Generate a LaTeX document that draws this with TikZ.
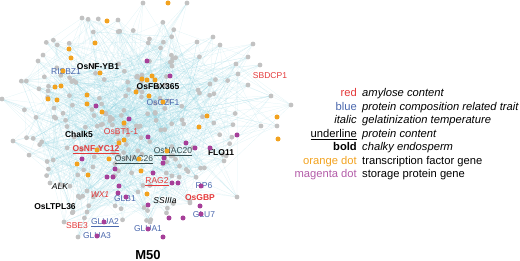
\documentclass[tikz,border=0pt]{standalone}
\usepackage{fontspec}
\setmainfont{Liberation Sans}
\usepackage{xcolor}
\usepackage{tikz}
\usetikzlibrary{positioning}
\definecolor{netcyan}{HTML}{86CEDC}
\definecolor{dotgray}{HTML}{C2C2C2}
\definecolor{tforange}{HTML}{F2A21F}
\definecolor{spmagenta}{HTML}{A63F99}
\definecolor{labred}{HTML}{E3393A}
\definecolor{labblue}{HTML}{4A67AD}
\definecolor{nacgray}{HTML}{34494B}

\begin{document}
\begin{tikzpicture}[
    x=1pt, y=-1pt,
    netlink/.style={draw=netcyan, line width=0.25pt, opacity=0.26},
    graydot/.style={fill=dotgray},
    tfdot/.style={fill=tforange},
    spdot/.style={fill=spmagenta},
    gene/.style={font=\fontsize{8.5}{10}\selectfont, inner sep=0pt},
    key/.style={font=\fontsize{11.2}{13}\selectfont, inner sep=0pt, anchor=base east},
    meaning/.style={font=\fontsize{11.2}{13}\selectfont\itshape, inner sep=0pt, anchor=base west}
]
    \useasboundingbox (0,0) rectangle (520,261);

    % Network points
    \pgfmathsetseed{50}
    \foreach \i in {1,...,200} {
        \pgfmathsetmacro\ang{360*rnd}
        \pgfmathsetmacro\rad{rnd^0.6}
        \coordinate (g\i) at ({122+114*\rad*cos(\ang)},{118+106*\rad*sin(\ang)});
    }
    \foreach \x/\y [count=\i from 201] in {143/3,187/3,82/18,118/20,2/99,13/141,
        260/65,271/96,291/105,277/126,261/126,253/44,248/57,236/64,
        238/74,248/85,213/37,220/45,197/42,50/183,64/222,78/237,
        87/212,73/212,237/197,150/222}
        \coordinate (g\i) at (\x,\y);

    % Links
    \foreach \i in {1,...,226} {
        \foreach \k in {1,...,4} {
            \pgfmathtruncatemacro\j{1+225*rnd}
            \draw[netlink] (g\i) -- (g\j);
        }
    }

    % Gray dots
    \foreach \i in {1,...,226}
        \fill[graydot] (g\i) circle (2.4);

    % Gene labels
    \node[gene, text=labblue] (risbz1) at (66,72) {RISBZ1};
    \node[gene, font=\fontsize{8.5}{10}\selectfont\bfseries] (nfyb1) at (98,67) {OsNF-YB1};
    \node[gene, font=\fontsize{8.5}{10}\selectfont\bfseries] (fbx365) at (158,87) {OsFBX365};
    \node[gene, text=labblue] (gzf1) at (163,103) {OsGZF1};
    \node[gene, text=labred] (sbdcp1) at (270,76) {SBDCP1};
    \node[gene, font=\fontsize{8.5}{10}\selectfont\bfseries] (chalk5) at (79,134) {Chalk5};
    \node[gene, text=labred] (bt11) at (121,132) {OsBT1-1};
    \node[gene, text=labred, font=\fontsize{8.5}{10}\selectfont\bfseries] (nfyc12) at (96,150) {\underline{OsNF-YC12}};
    \node[gene, text=nacgray] (nac20) at (173,152) {\underline{OsNAC20}};
    \node[gene, text=nacgray] (nac26) at (134,160) {\underline{OsNAC26}};
    \node[gene, font=\fontsize{8.5}{10}\selectfont\bfseries] (flo11) at (221,153) {FLO11};
    \node[gene, text=labred] (rag2) at (157,182) {\underline{RAG2}};
    \node[gene, text=labblue] (rp6) at (204,186) {RP6};
    \node[gene, font=\fontsize{8.5}{10}\selectfont\itshape] (alk) at (60,187) {ALK};
    \node[gene, text=labred, font=\fontsize{8.5}{10}\selectfont\itshape] (wx1) at (100,195) {WX1};
    \node[gene, text=labblue] (glb1) at (125,199) {GLB1};
    \node[gene, font=\fontsize{8.5}{10}\selectfont\itshape] (ss3a) at (165,201) {SSIIIa};
    \node[gene, text=labred, font=\fontsize{8.5}{10}\selectfont\bfseries] (gbp) at (200,198) {OsGBP};
    \node[gene, text=labblue] (glu7) at (204,215) {GLU7};
    \node[gene, font=\fontsize{8.5}{10}\selectfont\bfseries] (ltpl36) at (55,207) {OsLTPL36};
    \node[gene, text=labred] (sbe3) at (77,226) {SBE3};
    \node[gene, text=labblue] (glua2) at (105,223) {\underline{GLUA2}};
    \node[gene, text=labblue] (glua3) at (97,236) {GLUA3};
    \node[gene, text=labblue] (glua1) at (148,229) {GLUA1};

    % Transcription factor dots
    \foreach \x/\y in {168/3,107/21,95/43,69/49,71/58,100/73,55/87,61/86,
        48/99,57/100,87/95,87/104,102/112,142/79,147/80,152/76,155/80,
        136/92,149/96,163/102,207/116,199/127,124/123,119/143,124/140,
        77/164,109/159,88/175,97/150,141/171,147/194,167/151,139/159,
        277/117,278/139,63/71}
        \fill[tfdot] (\x,\y) circle (2.5);

    % Storage protein dots
    \foreach \x/\y in {147/61,170/76,96/106,129/119,148/137,82/159,115/169,
        107/177,113/177,119/186,118/193,126/197,148/205,153/173,163/163,
        164/158,172/183,178/183,195/148,210/148,186/143,237/135,200/206,
        201/214,169/218,183/218,163/237,97/236,104/222,201/186,148/229}
        \fill[spdot] (\x,\y) circle (2.5);

    % Module name
    \node[font=\fontsize{13}{15}\selectfont\bfseries, inner sep=0pt, anchor=base] (m50) at (148,259.5) {M50};

    % Legend
    \node[key, text=labred] (k1) at (357,97) {red};
    \node[key, text=labblue] (k2) at (357,110.5) {blue};
    \node[key, font=\fontsize{11.2}{13}\selectfont\itshape] (k3) at (357,124) {italic};
    \node[key] (k4) at (357,137.5) {\underline{underline}};
    \node[key, font=\fontsize{11.2}{13}\selectfont\bfseries] (k5) at (357,151) {bold};
    \node[key, text=tforange] (k6) at (357,164.5) {orange dot};
    \node[key, text=spmagenta!85!white] (k7) at (357,178) {magenta dot};
    \path (k1.base east) ++(5,0) node[meaning] (m1) {amylose content};
    \path (k2.base east) ++(5,0) node[meaning] (m2) {protein composition related trait};
    \path (k3.base east) ++(5,0) node[meaning] (m3) {gelatinization temperature};
    \path (k4.base east) ++(5,0) node[meaning] (m4) {protein content};
    \path (k5.base east) ++(5,0) node[meaning] (m5) {chalky endosperm};
    \path (k6.base east) ++(5,0) node[meaning, font=\fontsize{11.2}{13}\selectfont] (m6) {transcription factor gene};
    \path (k7.base east) ++(5,0) node[meaning, font=\fontsize{11.2}{13}\selectfont] (m7) {storage protein gene};
\end{tikzpicture}
\end{document}
